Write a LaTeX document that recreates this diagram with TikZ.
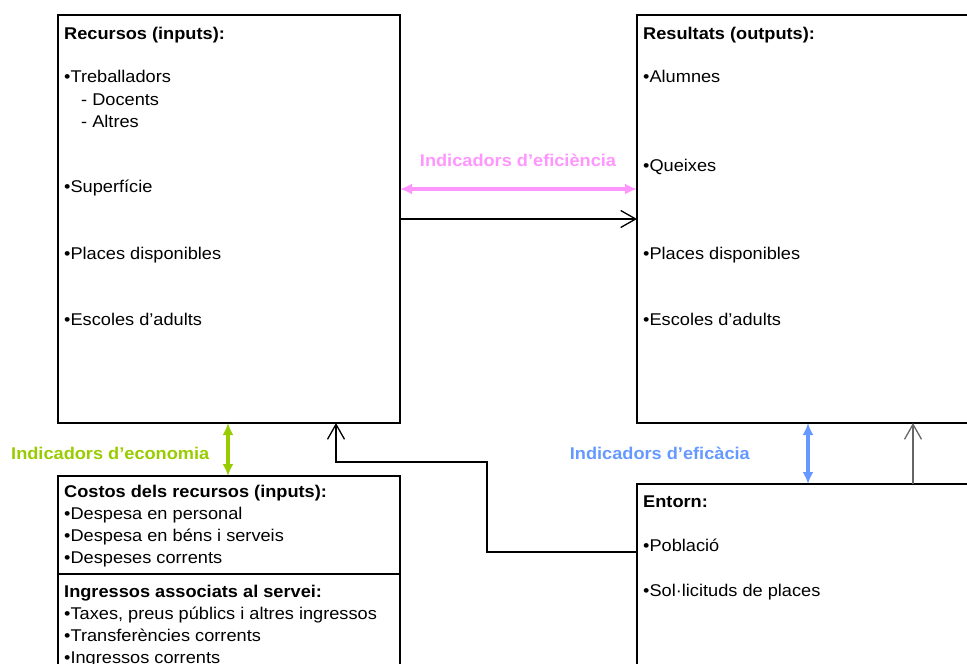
\documentclass[tikz,border=0pt]{standalone}
\usepackage{fontspec}
\setmainfont{Liberation Sans}[FakeStretch=1.07]
\usetikzlibrary{arrows.meta,positioning}
\definecolor{myrosa}{RGB}{255,150,255}
\definecolor{myverd}{RGB}{153,204,0}
\definecolor{myblau}{RGB}{102,153,255}

\begin{document}
\begin{tikzpicture}[x=1pt,y=-1pt,inner sep=0pt,font=\fontsize{17}{20}\selectfont]
\tikzstyle{box}=[rectangle, draw=black, line width=1.5pt, outer sep=0pt, anchor=north west]
\tikzstyle{txt}=[anchor=base west]
\tikzstyle{head}=[txt, font=\fontsize{17}{20}\selectfont\bfseries]
\tikzstyle{connect}=[line width=1.3pt, -{Straight Barb[length=15pt,width=17pt]}]
\tikzstyle{indic}=[line width=3.5pt, {Latex[length=12pt,width=11pt]}-{Latex[length=12pt,width=11pt]}]
\useasboundingbox (0,0) rectangle (967,664);
\clip (0,0) rectangle (967,664);
% caixes
\node[box, minimum width=342pt, minimum height=408pt] (recursos) at (58,15) {};
\node[box, minimum width=400pt, minimum height=408pt] (resultats) at (637,15) {};
\node[box, minimum width=342pt, minimum height=300pt] (costos) at (58,476) {};
\node[box, minimum width=400pt, minimum height=300pt] (entorn) at (637,484) {};
\draw[line width=1.5pt] (costos.west |- 0,574) -- (costos.east |- 0,574);
% recursos
\node[head] (rec0) at (64,39) {Recursos (inputs):};
\node[txt] (rec1) at (64,82) {•Treballadors};
\node[txt] (rec2) at (81,105) {- Docents};
\node[txt] (rec3) at (81,127) {- Altres};
\node[txt] (rec4) at (64,192) {•Superfície};
\node[txt] (rec5) at (64,259) {•Places disponibles};
\node[txt] (rec6) at (64,325) {•Escoles d’adults};
% resultats
\node[head] (res0) at (643,39) {Resultats (outputs):};
\node[txt] (res1) at (643,82) {•Alumnes};
\node[txt] (res2) at (643,171) {•Queixes};
\node[txt] (res3) at (643,259) {•Places disponibles};
\node[txt] (res4) at (643,325) {•Escoles d’adults};
% costos i ingressos
\node[head] (cos0) at (64,497) {Costos dels recursos (inputs):};
\node[txt] (cos1) at (64,519) {•Despesa en personal};
\node[txt] (cos2) at (64,541) {•Despesa en béns i serveis};
\node[txt] (cos3) at (64,563) {•Despeses corrents};
\node[head] (ing0) at (64,597) {Ingressos associats al servei:};
\node[txt] (ing1) at (64,619) {•Taxes, preus públics i altres ingressos};
\node[txt] (ing2) at (64,641) {•Transferències corrents};
\node[txt] (ing3) at (64,663) {•Ingressos corrents};
% entorn
\node[head] (ent0) at (643,507) {Entorn:};
\node[txt] (ent1) at (643,551) {•Població};
\node[txt] (ent2) at (643,596) {•Sol·licituds de places};
% indicadors
\node[head, anchor=base, text=myrosa] (efi) at (518,166) {Indicadors d’eficiència};
\node[head, text=myverd] (eco) at (11,459) {Indicadors d’economia};
\node[head, anchor=base east, text=myblau] (efa) at (750,459) {Indicadors d’eficàcia};
\draw[indic, myrosa] (recursos.east |- 0,189) -- (resultats.west |- 0,189);
\draw[indic, myverd] (recursos.south -| 228,0) -- (costos.north -| 228,0);
\draw[indic, myblau] (resultats.south -| 808,0) -- (entorn.north -| 808,0);
% fletxes
\draw[connect] (recursos.east |- 0,219) -- (resultats.west |- 0,219);
\draw[connect] (entorn.west |- 0,552) -- (487,552) -- (487,462) -- (336,462) -- (recursos.south -| 336,0);
\draw[connect, black!60] (entorn.north -| 913,0) -- (resultats.south -| 913,0);
\end{tikzpicture}
\end{document}
